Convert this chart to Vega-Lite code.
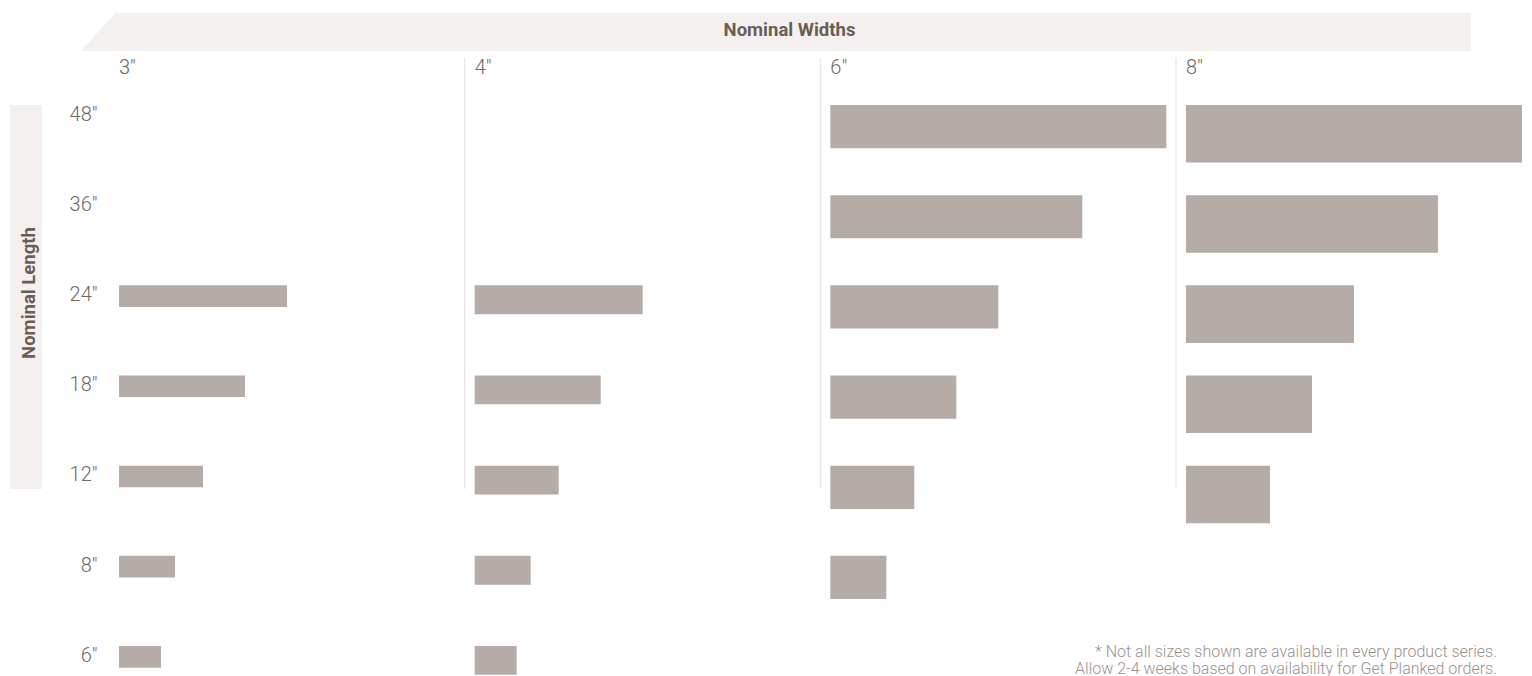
{
  "$schema": "https://vega.github.io/schema/vega-lite/v6.json",
  "padding": {"left": 10, "top": 12, "right": 1, "bottom": 0},
  "autosize": {"type": "pad"},
  "background": "white",
  "config": {"view": {"stroke": null}, "font": "Roboto"},
  "data": {"values": [
    {"width": 3, "length": 24}, {"width": 3, "length": 18}, {"width": 3, "length": 12}, {"width": 3, "length": 8}, {"width": 3, "length": 6},
    {"width": 4, "length": 24}, {"width": 4, "length": 18}, {"width": 4, "length": 12}, {"width": 4, "length": 8}, {"width": 4, "length": 6},
    {"width": 6, "length": 48}, {"width": 6, "length": 36}, {"width": 6, "length": 24}, {"width": 6, "length": 18}, {"width": 6, "length": 12}, {"width": 6, "length": 8},
    {"width": 8, "length": 48}, {"width": 8, "length": 36}, {"width": 8, "length": 24}, {"width": 8, "length": 18}, {"width": 8, "length": 12}
  ]},
  "bounds": "flush",
  "spacing": 54,
  "vconcat": [
    {
      "width": 1461, "height": 38,
      "data": {"values": [{}]},
      "layer": [
        {"mark": {"type": "point", "shape": "M -0.85626 -0.02601 L 1 -0.02601 L 1 0.02601 L -0.90281 0.02601 Z", "size": 2134521, "filled": true, "color": "#f4f0ef", "opacity": 1, "strokeWidth": 0}, "encoding": {}},
        {"mark": {"type": "text", "text": "Nominal Widths", "dx": 49, "dy": 4, "baseline": "alphabetic", "align": "center", "font": "Roboto", "fontSize": 18.5, "fontWeight": "bold", "color": "#6b5d56"}, "encoding": {}}
      ]
    },
    {
      "bounds": "flush",
      "spacing": 77,
      "hconcat": [
        {
          "width": 32, "height": 384,
          "view": {"fill": "#f4f0ef", "stroke": null},
          "data": {"values": [{}]},
          "mark": {"type": "text", "text": "Nominal Length", "angle": 270, "dx": 4, "dy": 3, "align": "center", "baseline": "middle", "font": "Roboto", "fontSize": 18.5, "fontWeight": "bold", "color": "#6b5d56"},
          "encoding": {}
        },
        {
          "bounds": "flush",
          "spacing": 10.67,
          "hconcat": [
            {
              "width": 345, "height": 572,
              "layer": [
                {
                  "transform": [{"filter": "datum.width == 3"}],
                  "mark": {"type": "bar", "orient": "horizontal", "baseline": "top", "color": "#b5aca7"},
                  "encoding": {
                    "x": {"field": "length", "type": "quantitative", "stack": null, "scale": {"domain": [0, 49.2857], "nice": false, "zero": false}, "axis": null},
                    "y": {"field": "length", "type": "ordinal", "scale": {"domain": [48, 36, 24, 18, 12, 8, 6], "range": [0, 631.2], "paddingInner": 0, "paddingOuter": 0},
                      "axis": {"labelExpr": "datum.value + '\"'", "ticks": false, "tickSize": 0, "domain": false, "labelPadding": 22, "labelFontSize": 20, "labelFont": "Roboto", "labelFontWeight": 300, "labelColor": "#6f6762", "labelOffset": -35.3, "labelAlign": "right", "labelBaseline": "middle", "title": null, "grid": false}},
                    "size": {"field": "width", "type": "quantitative", "scale": {"domain": [0, 8], "range": [0, 57.6]}, "legend": null}
                  }
                },
                {
                  "data": {"values": [{}]},
                  "mark": {"type": "text", "text": "3\"", "align": "left", "baseline": "alphabetic", "dy": -31, "font": "Roboto", "fontSize": 20, "fontWeight": 300, "color": "#6f6762"},
                  "encoding": {
                    "x": {"datum": 0, "type": "quantitative", "scale": {"domain": [0, 49.2857], "nice": false, "zero": false}, "axis": null},
                    "y": {"datum": 48, "type": "ordinal", "bandPosition": 0, "scale": {"domain": [48, 36, 24, 18, 12, 8, 6], "range": [0, 631.2], "paddingInner": 0, "paddingOuter": 0}}
                  }
                }
              ]
            },
            {
              "width": 345, "height": 572,
              "layer": [
                {
                  "data": {"values": [{}]},
                  "mark": {"type": "rule", "color": "#ebe6e5", "strokeWidth": 1.3, "yOffset": -47, "y2Offset": -22},
                  "encoding": {
                    "x": {"datum": -1.4286, "type": "quantitative", "scale": {"domain": [0, 49.2857], "nice": false, "zero": false}, "axis": null},
                    "y": {"datum": 48, "type": "ordinal", "bandPosition": 0, "scale": {"domain": [48, 36, 24, 18, 12, 8, 6], "range": [0, 631.2], "paddingInner": 0, "paddingOuter": 0}, "axis": null},
                    "y2": {"datum": 12}
                  }
                },
                {
                  "transform": [{"filter": "datum.width == 4"}],
                  "mark": {"type": "bar", "orient": "horizontal", "baseline": "top", "color": "#b5aca7"},
                  "encoding": {
                    "x": {"field": "length", "type": "quantitative", "stack": null, "scale": {"domain": [0, 49.2857], "nice": false, "zero": false}, "axis": null},
                    "y": {"field": "length", "type": "ordinal", "scale": {"domain": [48, 36, 24, 18, 12, 8, 6], "range": [0, 631.2], "paddingInner": 0, "paddingOuter": 0}, "axis": null},
                    "size": {"field": "width", "type": "quantitative", "scale": {"domain": [0, 8], "range": [0, 57.6]}, "legend": null}
                  }
                },
                {
                  "data": {"values": [{}]},
                  "mark": {"type": "text", "text": "4\"", "align": "left", "baseline": "alphabetic", "dy": -31, "font": "Roboto", "fontSize": 20, "fontWeight": 300, "color": "#6f6762"},
                  "encoding": {
                    "x": {"datum": 0, "type": "quantitative", "scale": {"domain": [0, 49.2857], "nice": false, "zero": false}, "axis": null},
                    "y": {"datum": 48, "type": "ordinal", "bandPosition": 0, "scale": {"domain": [48, 36, 24, 18, 12, 8, 6], "range": [0, 631.2], "paddingInner": 0, "paddingOuter": 0}}
                  }
                }
              ]
            },
            {
              "width": 345, "height": 572,
              "layer": [
                {
                  "data": {"values": [{}]},
                  "mark": {"type": "rule", "color": "#ebe6e5", "strokeWidth": 1.3, "yOffset": -47, "y2Offset": -22},
                  "encoding": {
                    "x": {"datum": -1.4286, "type": "quantitative", "scale": {"domain": [0, 49.2857], "nice": false, "zero": false}, "axis": null},
                    "y": {"datum": 48, "type": "ordinal", "bandPosition": 0, "scale": {"domain": [48, 36, 24, 18, 12, 8, 6], "range": [0, 631.2], "paddingInner": 0, "paddingOuter": 0}, "axis": null},
                    "y2": {"datum": 12}
                  }
                },
                {
                  "transform": [{"filter": "datum.width == 6"}],
                  "mark": {"type": "bar", "orient": "horizontal", "baseline": "top", "color": "#b5aca7"},
                  "encoding": {
                    "x": {"field": "length", "type": "quantitative", "stack": null, "scale": {"domain": [0, 49.2857], "nice": false, "zero": false}, "axis": null},
                    "y": {"field": "length", "type": "ordinal", "scale": {"domain": [48, 36, 24, 18, 12, 8, 6], "range": [0, 631.2], "paddingInner": 0, "paddingOuter": 0}, "axis": null},
                    "size": {"field": "width", "type": "quantitative", "scale": {"domain": [0, 8], "range": [0, 57.6]}, "legend": null}
                  }
                },
                {
                  "data": {"values": [{}]},
                  "mark": {"type": "text", "text": "6\"", "align": "left", "baseline": "alphabetic", "dy": -31, "font": "Roboto", "fontSize": 20, "fontWeight": 300, "color": "#6f6762"},
                  "encoding": {
                    "x": {"datum": 0, "type": "quantitative", "scale": {"domain": [0, 49.2857], "nice": false, "zero": false}, "axis": null},
                    "y": {"datum": 48, "type": "ordinal", "bandPosition": 0, "scale": {"domain": [48, 36, 24, 18, 12, 8, 6], "range": [0, 631.2], "paddingInner": 0, "paddingOuter": 0}}
                  }
                }
              ]
            },
            {
              "width": 345, "height": 572,
              "layer": [
                {
                  "data": {"values": [{}]},
                  "mark": {"type": "rule", "color": "#ebe6e5", "strokeWidth": 1.3, "yOffset": -47, "y2Offset": -22},
                  "encoding": {
                    "x": {"datum": -1.4286, "type": "quantitative", "scale": {"domain": [0, 49.2857], "nice": false, "zero": false}, "axis": null},
                    "y": {"datum": 48, "type": "ordinal", "bandPosition": 0, "scale": {"domain": [48, 36, 24, 18, 12, 8, 6], "range": [0, 631.2], "paddingInner": 0, "paddingOuter": 0}, "axis": null},
                    "y2": {"datum": 12}
                  }
                },
                {
                  "transform": [{"filter": "datum.width == 8"}],
                  "mark": {"type": "bar", "orient": "horizontal", "baseline": "top", "color": "#b5aca7"},
                  "encoding": {
                    "x": {"field": "length", "type": "quantitative", "stack": null, "scale": {"domain": [0, 49.2857], "nice": false, "zero": false}, "axis": null},
                    "y": {"field": "length", "type": "ordinal", "scale": {"domain": [48, 36, 24, 18, 12, 8, 6], "range": [0, 631.2], "paddingInner": 0, "paddingOuter": 0}, "axis": null},
                    "size": {"field": "width", "type": "quantitative", "scale": {"domain": [0, 8], "range": [0, 57.6]}, "legend": null}
                  }
                },
                {
                  "data": {"values": [{}]},
                  "mark": {"type": "text", "text": "8\"", "align": "left", "baseline": "alphabetic", "dy": -31, "font": "Roboto", "fontSize": 20, "fontWeight": 300, "color": "#6f6762"},
                  "encoding": {
                    "x": {"datum": 0, "type": "quantitative", "scale": {"domain": [0, 49.2857], "nice": false, "zero": false}, "axis": null},
                    "y": {"datum": 48, "type": "ordinal", "bandPosition": 0, "scale": {"domain": [48, 36, 24, 18, 12, 8, 6], "range": [0, 631.2], "paddingInner": 0, "paddingOuter": 0}}
                  }
                },
                {
                  "data": {"values": [{}]},
                  "mark": {"type": "text", "text": ["* Not all sizes shown are available in every product series.", "Allow 2-4 weeks based on availability for Get Planked orders."], "lineHeight": 17, "align": "right", "baseline": "alphabetic", "dy": 11, "font": "Roboto", "fontSize": 16, "fontWeight": 300, "color": "#9a918c"},
                  "encoding": {
                    "x": {"datum": 44.43, "type": "quantitative", "scale": {"domain": [0, 49.2857], "nice": false, "zero": false}, "axis": null},
                    "y": {"datum": 6, "type": "ordinal", "bandPosition": 0, "scale": {"domain": [48, 36, 24, 18, 12, 8, 6], "range": [0, 631.2], "paddingInner": 0, "paddingOuter": 0}}
                  }
                }
              ]
            }
          ]
        }
      ]
    }
  ]
}
